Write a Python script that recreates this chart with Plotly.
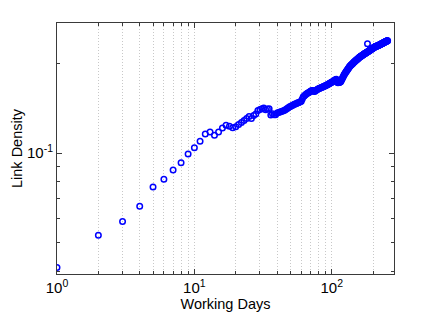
import plotly.graph_objects as go

# Working days (integer days) and link density
days = list(range(1, 256))

density = [
    # 1-10
    0.04115, 0.0528, 0.0588, 0.0661, 0.0768, 0.0815, 0.0877, 0.0928, 0.0992, 0.1042,
    # 11-20
    0.1096, 0.1160, 0.1178, 0.1147, 0.1177, 0.1214, 0.1240, 0.1231, 0.1217, 0.1226,
    # 21-30
    0.1248, 0.1267, 0.1286, 0.1308, 0.1328, 0.1308, 0.1338, 0.1353, 0.1391, 0.1402,
    # 31-40
    0.1410, 0.1418, 0.1400, 0.1406, 0.1410, 0.1342, 0.1356, 0.1345, 0.1345, 0.1364,
    # 41-50
    0.1370, 0.1375, 0.1381, 0.1386, 0.1392, 0.1400, 0.1410, 0.1419, 0.1428, 0.1436,
    # 51-60
    0.1443, 0.1449, 0.1456, 0.1462, 0.1467, 0.1473, 0.1478, 0.1484, 0.1489, 0.1495,
    # 61-70
    0.1522, 0.1548, 0.1558, 0.1568, 0.1578, 0.1586, 0.1593, 0.1600, 0.1607, 0.1614,
    # 71-80
    0.1622, 0.1624, 0.1620, 0.1615, 0.1612, 0.1620, 0.1628, 0.1635, 0.1641, 0.1646,
    # 81-90
    0.1650, 0.1654, 0.1658, 0.1662, 0.1666, 0.1670, 0.1674, 0.1678, 0.1682, 0.1687,
    # 91-100
    0.1691, 0.1696, 0.1700, 0.1705, 0.1710, 0.1714, 0.1719, 0.1724, 0.1728, 0.1733,
    # 101-110
    0.1738, 0.1743, 0.1748, 0.1753, 0.1758, 0.1763, 0.1768, 0.1773, 0.1750, 0.1732,
    # 111-120
    0.1725, 0.1727, 0.1730, 0.1733, 0.1736, 0.1739, 0.1752, 0.1766, 0.1780, 0.1793,
    # 121-130
    0.1807, 0.1821, 0.1835, 0.1848, 0.1858, 0.1868, 0.1878, 0.1888, 0.1898, 0.1908,
    # 131-140
    0.1918, 0.1928, 0.1938, 0.1948, 0.1958, 0.1965, 0.1971, 0.1978, 0.1984, 0.1991,
    # 141-150
    0.1997, 0.2004, 0.2010, 0.2017, 0.2023, 0.2030, 0.2036, 0.2042, 0.2047, 0.2053,
    # 151-160
    0.2058, 0.2064, 0.2069, 0.2075, 0.2080, 0.2086, 0.2091, 0.2097, 0.2102, 0.2108,
    # 161-170
    0.2112, 0.2116, 0.2120, 0.2124, 0.2128, 0.2132, 0.2136, 0.2140, 0.2144, 0.2148,
    # 171-180
    0.2152, 0.2156, 0.2160, 0.2164, 0.2167, 0.2171, 0.2175, 0.2178, 0.2182, 0.2186,
    # 181-190
    0.2189, 0.2335, 0.2196, 0.2200, 0.2204, 0.2208, 0.2211, 0.2215, 0.2219, 0.2222,
    # 191-200
    0.2226, 0.2229, 0.2233, 0.2237, 0.2240, 0.2244, 0.2247, 0.2251, 0.2255, 0.2258,
    # 201-210
    0.2262, 0.2265, 0.2269, 0.2273, 0.2276, 0.2279, 0.2281, 0.2283, 0.2285, 0.2288,
    # 211-220
    0.2290, 0.2292, 0.2294, 0.2296, 0.2298, 0.2301, 0.2303, 0.2305, 0.2307, 0.2309,
    # 221-230
    0.2312, 0.2314, 0.2316, 0.2319, 0.2321, 0.2324, 0.2326, 0.2329, 0.2331, 0.2334,
    # 231-240
    0.2336, 0.2339, 0.2341, 0.2344, 0.2346, 0.2349, 0.2351, 0.2354, 0.2356, 0.2359,
    # 241-250
    0.2361, 0.2364, 0.2366, 0.2368, 0.2370, 0.2373, 0.2375, 0.2377, 0.2379, 0.2381,
    # 251-255
    0.2384, 0.2386, 0.2388, 0.2390, 0.2392,
]

x_tickvals = [1, 10, 100]
x_ticktext = ["10<sup>0</sup>", "10<sup>1</sup>", "10<sup>2</sup>"]
x_minor = [2, 3, 4, 5, 6, 7, 8, 9, 20, 30, 40, 50, 60, 70, 80, 90, 200]
y_tickvals = [0.1]
y_ticktext = ["10<sup>-1</sup>"]
y_minor = [0.04, 0.05, 0.06, 0.07, 0.08, 0.09, 0.2]

x_range_log = [0.0, 2.453]
y_range_log = [-1.4078, -0.5618]

FONT = "Liberation Sans, Arial, Helvetica, sans-serif"
GRID = "#c8c8c8"

fig = go.Figure()
fig.add_trace(go.Scatter(
    x=days, y=density, mode="markers",
    marker=dict(symbol="circle-open", size=5.5, color="#0000ff",
                line=dict(width=1.5, color="#0000ff")),
    showlegend=False,
))

axis_common = dict(
    showline=True, linecolor="#3a3a3a", linewidth=1, mirror="ticks",
    ticks="inside", ticklen=5, tickcolor="#3a3a3a", tickwidth=1,
    zeroline=False, automargin=False,
    tickfont=dict(family=FONT, size=15, color="#000000"),
)

fig.update_layout(
    width=436, height=312,
    margin=dict(l=57, r=42, t=23, b=38),
    paper_bgcolor="#ffffff", plot_bgcolor="#ffffff",
    font=dict(family=FONT, size=14, color="#000000"),
    xaxis=dict(
        type="log", range=x_range_log,
        tickmode="array", tickvals=x_tickvals, ticktext=x_ticktext,
        showgrid=True, gridcolor=GRID, griddash="1px,2px", gridwidth=1,
        minor=dict(tickvals=x_minor, ticks="inside", ticklen=3,
                   tickcolor="#3a3a3a", showgrid=True,
                   gridcolor=GRID, griddash="1px,2px", gridwidth=1),
        title=dict(text="Working Days", font=dict(family=FONT, size=14.5),
                   standoff=2),
        **axis_common,
    ),
    yaxis=dict(
        type="log", range=y_range_log,
        tickmode="array", tickvals=y_tickvals, ticktext=y_ticktext,
        showgrid=False, ticklabelstandoff=0,
        minor=dict(tickvals=y_minor, ticks="inside", ticklen=3,
                   tickcolor="#3a3a3a", showgrid=False),
        title=dict(text="Link Density", font=dict(family=FONT, size=14.5),
                   standoff=0),
        **axis_common,
    ),
)

fig.write_html(
    "out.html",
    config={"displayModeBar": False},
    post_script="document.body.style.margin='0';document.body.style.overflow='hidden';",
)
